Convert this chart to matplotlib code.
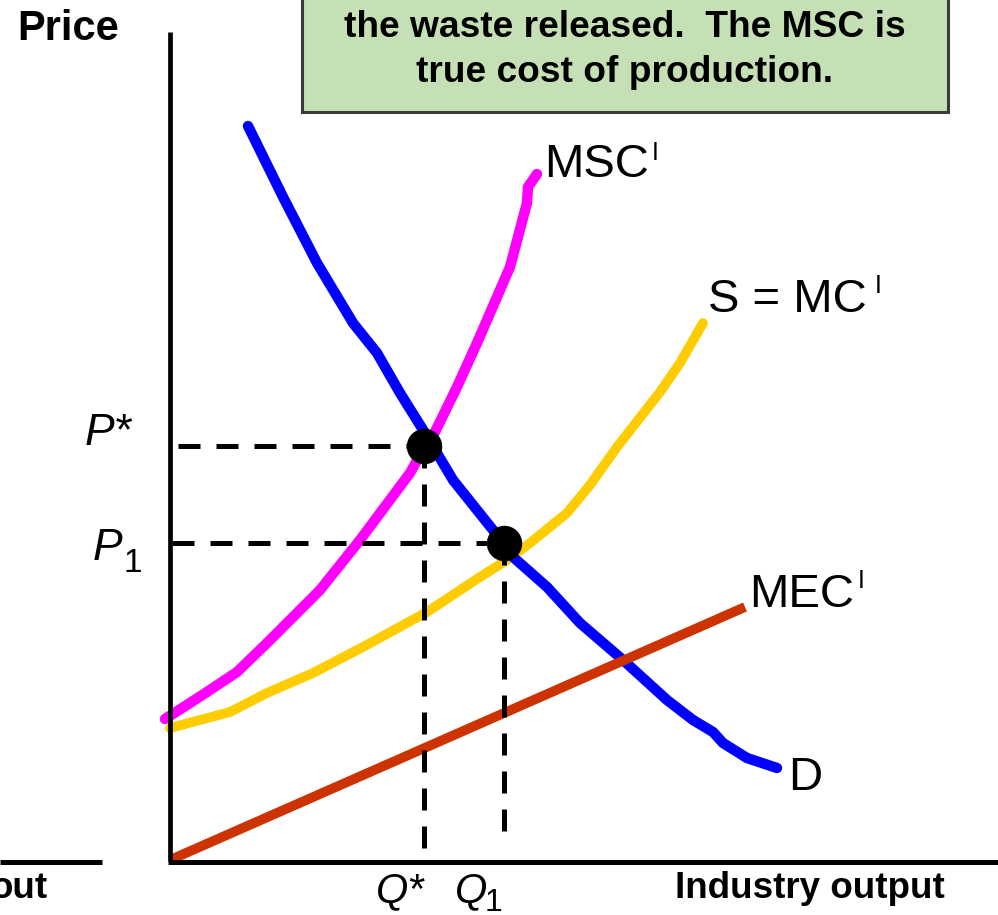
import matplotlib
matplotlib.use("Agg")
import matplotlib.pyplot as plt
from matplotlib.patches import Rectangle

plt.rcParams['font.family'] = ['Liberation Sans', 'DejaVu Sans']

# ---- data (quantity, price) ----
d_q = [7.8, 11.3, 14.7, 18.3, 20.7, 23.0, 25.5, 28.3, 32.3, 34.3, 37.7, 41.0, 45.3, 49.7, 52.3, 54.3, 55.3, 57.7, 60.7]
d_p = [73.4, 66.3, 59.7, 53.7, 50.7, 46.7, 42.7, 38.0, 33.0, 30.3, 27.3, 23.7, 20.0, 16.0, 14.0, 12.8, 11.7, 10.2, 9.2]

msc_q = [-0.5, 3.7, 6.7, 9.7, 15.0, 19.0, 24.0, 25.4, 26.5, 28.7, 30.7, 34.0, 35.7, 35.8, 36.7]
msc_p = [14.1, 16.8, 18.8, 21.7, 27.0, 32.0, 38.7, 41.2, 42.8, 47.3, 51.7, 59.3, 65.7, 67.3, 68.6]

s_q = [0.0, 6.0, 9.7, 14.3, 19.3, 25.7, 31.0, 33.7, 36.0, 39.7, 42.0, 44.7, 49.0, 51.0, 53.3]
s_p = [13.2, 14.8, 16.7, 18.7, 21.3, 24.8, 28.3, 30.0, 31.7, 34.7, 37.5, 41.3, 46.8, 49.7, 53.7]

mec_q = [0.0, 57.5]
mec_p = [0.0, 25.3]

eq_q = [25.4, 33.4]      # Q*, Q1
eq_p = [41.4, 31.7]      # P*, P1

box_lines = ["the waste released.  The MSC is", "true cost of production."]

# ---- figure ----
fig = plt.figure(figsize=(9.98, 9.15), dpi=100)
ax = fig.add_axes([0, 0, 1, 1])
ax.set_xlim(-17.0, 82.8)
ax.set_ylim(-5.5, 86.0)
ax.axis('off')

# axes lines
ax.plot([0, 0], [-0.1, 82.8], color='black', lw=3.4, solid_capstyle='butt', zorder=7)
ax.plot([-0.2, 82.8], [-0.15, -0.15], color='black', lw=3.6, solid_capstyle='butt', zorder=7)
ax.plot([-17.0, -6.8], [-0.2, -0.2], color='black', lw=3.6, solid_capstyle='butt', zorder=7)

# curves
ax.plot(s_q, s_p, color='#FFCC00', lw=7.0, solid_capstyle='round', solid_joinstyle='round', zorder=2)
ax.plot(d_q, d_p, color='#0000FF', lw=7.5, solid_capstyle='round', solid_joinstyle='round', zorder=3)
ax.plot(msc_q, msc_p, color='#FF00FF', lw=7.5, solid_capstyle='round', solid_joinstyle='round', zorder=3.5)
ax.plot(mec_q, mec_p, color='#CC3300', lw=7.0, solid_capstyle='butt', zorder=4)

# dashed guide lines
dash = (0, (4.4, 3.2))
ax.plot([0.8, eq_q[0]], [eq_p[0], eq_p[0]], color='black', lw=3.6, linestyle=dash, dash_capstyle='butt', zorder=5)
ax.plot([0.2, eq_q[1]], [eq_p[1], eq_p[1]], color='black', lw=3.6, linestyle=dash, dash_capstyle='butt', zorder=5)
ax.plot([eq_q[0], eq_q[0]], [eq_p[0], 0.5], color='black', lw=3.6, linestyle=dash, dash_capstyle='butt', zorder=5)
ax.plot([eq_q[1], eq_q[1]], [eq_p[1], 1.5], color='black', lw=3.6, linestyle=dash, dash_capstyle='butt', zorder=5)

# equilibrium dots
ax.plot(eq_q, eq_p, 'o', color='black', markersize=24.5, zorder=6)

# green text box
ax.add_patch(Rectangle((13.2, 74.8), 64.6, 20.0, facecolor='#C5E0B4',
                       edgecolor='#3A3A3A', lw=2.2, zorder=8))
ax.text(45.5, 82.3, box_lines[0], ha='center', va='baseline', fontsize=26.7,
        fontweight='bold', color='black', zorder=9)
ax.text(45.5, 77.8, box_lines[1], ha='center', va='baseline', fontsize=26.7,
        fontweight='bold', color='black', zorder=9)

# axis titles
ax.text(-15.3, 82.0, "Price", ha='left', va='baseline', fontsize=30, fontweight='bold')
ax.text(50.5, -3.8, "Industry output", ha='left', va='baseline', fontsize=26.5, fontweight='bold')
ax.text(-12.2, -3.8, "out", ha='right', va='baseline', fontsize=26.5, fontweight='bold')

# curve labels
lab = 34
sup = 18
ax.text(37.45, 68.3, "MSC", ha='left', va='baseline', fontsize=lab)
ax.text(48.2, 70.0, "I", ha='left', va='baseline', fontsize=sup)
ax.text(53.85, 54.8, "S = MC", ha='left', va='baseline', fontsize=lab)
ax.text(70.5, 56.7, "I", ha='left', va='baseline', fontsize=sup)
ax.text(57.95, 25.3, "MEC", ha='left', va='baseline', fontsize=lab)
ax.text(68.8, 27.2, "I", ha='left', va='baseline', fontsize=sup)
ax.text(61.85, 7.0, "D", ha='left', va='baseline', fontsize=lab)

# price / quantity labels
ax.text(-8.5, 41.5, "P*", ha='left', va='baseline', fontsize=32, style='italic')
ax.text(-7.7, 30.0, "P", ha='left', va='baseline', fontsize=32, style='italic')
ax.text(-4.7, 28.8, "1", ha='left', va='baseline', fontsize=24)
ax.text(20.6, -4.2, "Q*", ha='left', va='baseline', fontsize=30, style='italic')
ax.text(28.5, -4.2, "Q", ha='left', va='baseline', fontsize=30, style='italic')
ax.text(31.5, -5.1, "1", ha='left', va='baseline', fontsize=23)

fig.savefig("out.png", dpi=100)
